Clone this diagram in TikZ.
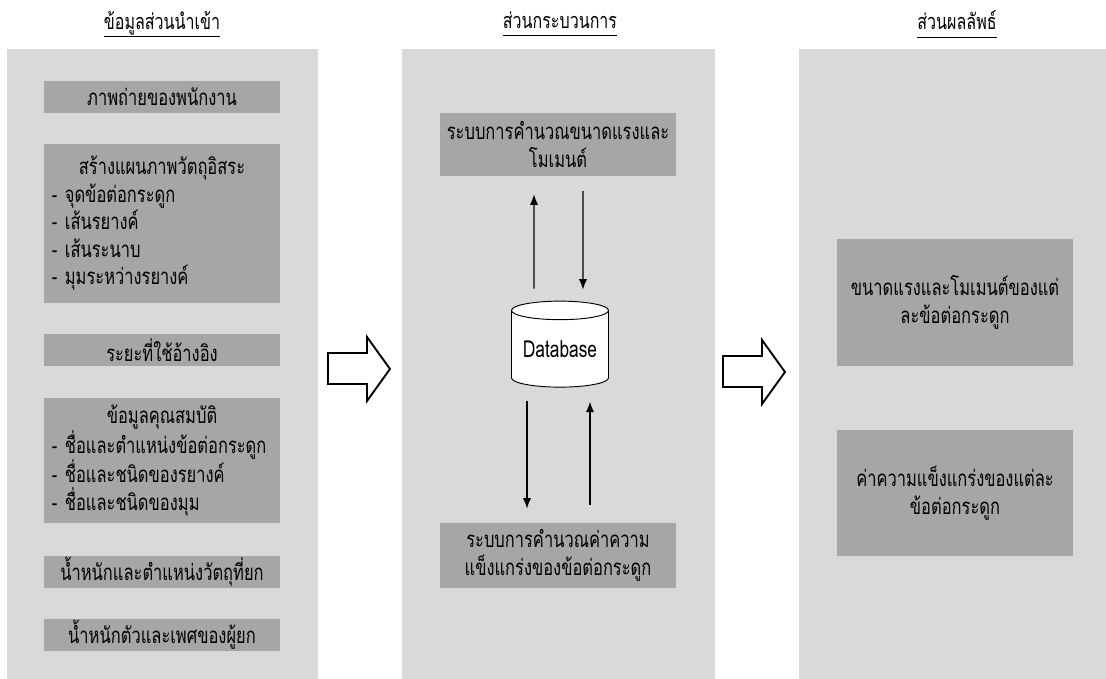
\documentclass[tikz,border=0pt]{standalone}
\usepackage{fontspec}
\setmainfont[Script=Thai, FakeStretch=0.74]{Loma}
\usetikzlibrary{positioning,shapes.geometric,calc,arrows.meta}
\definecolor{panelgray}{HTML}{D9D9D9}
\definecolor{boxgray}{HTML}{A6A6A6}
\begin{document}
\begin{tikzpicture}[x=0.03cm, y=-0.03cm, >={Latex[length=9pt,width=7pt]}, font=\fontsize{19}{23.5}\selectfont,
    panel/.style={fill=panelgray, inner sep=0, anchor=north west, minimum height=18.9cm},
    box/.style={fill=boxgray, inner sep=0, minimum width=7.08cm, align=center},
    listbox/.style={box, text width=6.6cm, align=left},
    title/.style={inner sep=0, font=\fontsize{18.5}{22}\selectfont},
    flow/.style={->, line width=1.2pt},
    bigarrow/.style={draw, fill=white, line width=1.6pt, line join=miter}]
    \useasboundingbox (0,0) rectangle (1106,679);
    % panels
    \node[panel, minimum width=9.33cm] (inpanel) at (7,49) {};
    \node[panel, minimum width=9.39cm] (procpanel) at (402,49) {};
    \node[panel, minimum width=9.21cm] (outpanel) at (799,49) {};
    \node[title] (intitle) at (162,24) {\underline{\vphantom{มู}ข้อมูลส่วนนำเข้า}};
    \node[title] (proctitle) at (560,24) {\underline{\vphantom{มู}ส่วนกระบวนการ}};
    \node[title] (outtitle) at (957,24) {\underline{\vphantom{มู}ส่วนผลลัพธ์}};
    % input side
    \node[box, minimum height=0.96cm] (photo) at (162,97) {ภาพถ่ายของพนักงาน};
    \node[listbox, minimum height=4.77cm] (fbd) at (162,223.5) {{\centering สร้างแผนภาพวัตถุอิสระ\par}- จุดข้อต่อกระดูก\\- เส้นรยางค์\\- เส้นระนาบ\\- มุมระหว่างรยางค์};
    \node[box, minimum height=0.96cm] (refdist) at (162,350) {ระยะที่ใช้อ้างอิง};
    \node[listbox, minimum height=3.75cm] (props) at (162,460.5) {{\centering ข้อมูลคุณสมบัติ\par}- ชื่อและตำแหน่งข้อต่อกระดูก\\- ชื่อและชนิดของรยางค์\\- ชื่อและชนิดของมุม};
    \node[box, minimum height=0.96cm] (load) at (162,572) {น้ำหนักและตำแหน่งวัตถุที่ยก};
    \node[box, minimum height=0.96cm] (worker) at (162,635) {น้ำหนักตัวและเพศของผู้ยก};
    % process
    \node[box, minimum height=1.89cm] (force) at (558,144.5) {ระบบการคำนวณขนาดแรงและ\\โมเมนต์};
    \node[cylinder, draw, fill=white, line width=0.8pt, shape border rotate=90, aspect=0.25,
        minimum width=2.91cm, minimum height=2.58cm, inner sep=0, font=\fontsize{20}{22}\selectfont] (db) at (560,349) {Database};
    \node[box, minimum height=1.95cm] (strength) at (558,555.5) {ระบบการคำนวณค่าความ\\แข็งแกร่งของข้อต่อกระดูก};
    \draw[flow] ($(db.north)+(-26,-12)$) -- ($(force.south)+(-24,18)$);
    \draw[flow] ($(force.south)+(25,15)$) -- ($(db.north)+(23,-11)$);
    \draw[flow] ($(db.south)+(-33,13)$) -- ($(strength.north)+(-31,-14)$);
    \draw[flow] ($(strength.north)+(32,-18)$) -- ($(db.south)+(30,14)$);
    % output
    \node[box, minimum height=3.81cm] (forceout) at (955,302.5) {ขนาดแรงและโมเมนต์ของแต่\\ละข้อต่อกระดูก};
    \node[box, minimum height=3.78cm] (strengthout) at (955,493) {ค่าความแข็งแกร่งของแต่ละ\\ข้อต่อกระดูก};
    % block arrows between panels
    \foreach \dx/\dy in {0/0, 395/3}
        \draw[bigarrow, shift={(\dx,\dy)}] (328,353) -- (367,353) -- (367,337) -- (390,369)
            -- (367,401) -- (367,384) -- (328,384) -- cycle;
\end{tikzpicture}
\end{document}
